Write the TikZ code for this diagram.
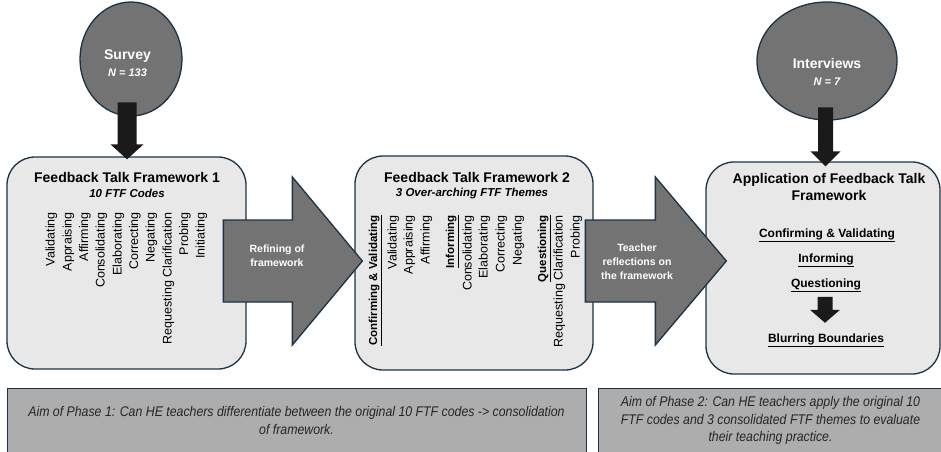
\documentclass[tikz,border=0pt]{standalone}
\usepackage{fontspec}
\setmainfont{Liberation Sans}
\newfontfamily\narrowfont[FakeStretch=0.88]{Liberation Sans}
\usepackage{xcolor}
\usetikzlibrary{arrows.meta, positioning, shapes.geometric, calc}

\definecolor{boxfill}{HTML}{E8E8E8}
\definecolor{edgeblue}{HTML}{1B3345}
\definecolor{midgray}{HTML}{737373}
\definecolor{aimgray}{HTML}{ADADAD}
\definecolor{aimtext}{HTML}{262626}
\definecolor{nearblack}{HTML}{1A1A1A}

\begin{document}
\begin{tikzpicture}[
  x=1pt, y=-1pt,
  framebox/.style={draw=edgeblue, line width=1.3pt, fill=boxfill, rounded corners=28pt, inner sep=0pt},
  source/.style={ellipse, draw=edgeblue, line width=1.3pt, fill=midgray, inner sep=0pt},
  sourcetext/.style={text=white, align=center, inner sep=0pt, font=\bfseries\fontsize{14}{17}\selectfont},
  fwtitle/.style={align=center, inner sep=0pt, font=\bfseries\fontsize{14}{17}\selectfont},
  fwsub/.style={inner sep=0pt, text height=8.3pt, text depth=0pt, font=\bfseries\itshape\fontsize{11.5}{14}\selectfont},
  codelabel/.style={rotate=90, anchor=east, inner sep=0pt, text height=9pt, text depth=0pt, font=\fontsize{12.5}{14}\selectfont},
  themelabel/.style={codelabel, text height=8.3pt, font=\bfseries\fontsize{11.5}{14}\selectfont},
  appitem/.style={inner sep=0pt, text height=8.6pt, text depth=0pt, font=\bfseries\fontsize{12}{14}\selectfont},
  blockarrow/.style={draw=edgeblue, line width=1.3pt, fill=midgray, line join=miter},
  arrowtext/.style={text=white, align=center, inner sep=0pt, font=\bfseries\fontsize{10.5}{14}\selectfont},
  pointer/.style={fill=nearblack},
  aimbox/.style={draw=edgeblue, line width=0.9pt, fill=aimgray, inner sep=0pt, align=center, text=aimtext, font=\narrowfont\itshape\fontsize{14}{17.5}\selectfont}
]
  \clip (0,0) rectangle (941,451);

  % STEP 1 ================================
  \node[source, minimum width=102pt, minimum height=114pt] (survey) at (131,59) {};
  \node[sourcetext] (surveytxt) at (127.5,63.5) {Survey\\{\fontsize{11}{17}\selectfont\itshape N = 133}};

  \node[framebox, minimum width=239pt, minimum height=212pt] (fw1) at (126.5,263) {};
  \node[fwtitle, text height=10.2pt, text depth=0pt] (fw1title) at (127,177) {Feedback Talk Framework 1};
  \node[fwsub] (fw1sub) at (127,193) {10 FTF Codes};

  % the 10 codes, read bottom to top
  \node[codelabel] (a1) at (50,212) {Validating};
  \node[codelabel] (a2) at (67,212) {Appraising};
  \node[codelabel] (a3) at (83.5,212) {Affirming};
  \node[codelabel] (a4) at (100,212) {Consolidating};
  \node[codelabel] (a5) at (117,212) {Elaborating};
  \node[codelabel] (a6) at (133.5,212) {Correcting};
  \node[codelabel] (a7) at (150,212) {Negating};
  \node[codelabel] (a8) at (167,212) {Requesting Clarification};
  \node[codelabel] (a9) at (183.5,212) {Probing};
  \node[codelabel] (a10) at (200,212) {Initiating};

  % STEP 2 ================================
  \node[framebox, minimum width=238pt, minimum height=214pt] (fw2) at (474,263) {};
  \node[fwtitle, text height=10.2pt, text depth=0pt] (fw2title) at (477,177) {Feedback Talk Framework 2};
  \node[fwsub] (fw2sub) at (472,192) {3 Over-arching FTF Themes};

  % themes and their codes
  \node[themelabel] (b1) at (373,215) {\underline{Confirming \& Validating}};
  \node[codelabel] (b2) at (392,215) {Validating};
  \node[codelabel] (b3) at (408,215) {Appraising};
  \node[codelabel] (b4) at (425,215) {Affirming};
  \node[themelabel] (b5) at (450,215) {\underline{Informing}};
  \node[codelabel] (b6) at (467,215) {Consolidating};
  \node[codelabel] (b7) at (483,215) {Elaborating};
  \node[codelabel] (b8) at (500,215) {Correcting};
  \node[codelabel] (b9) at (517,215) {Negating};
  \node[themelabel] (b10) at (542,215) {\underline{Questioning}};
  \node[codelabel] (b11) at (558,215) {Requesting Clarification};
  \node[codelabel] (b12) at (575,215) {Probing};

  % STEP 3 ================================
  \node[source, minimum width=140pt, minimum height=118pt] (interviews) at (827,61) {};
  \node[sourcetext] (interviewstxt) at (827,71.5) {Interviews\\{\fontsize{11}{17}\selectfont\itshape N = 7}};

  \node[framebox, minimum width=234pt, minimum height=212pt] (app) at (823,268) {};
  \node[fwtitle] (apptitle) at (829,186.5) {Application of Feedback Talk\\Framework};
  \node[appitem] (conf) at (827,233) {\underline{Confirming \& Validating}};
  \node[appitem] (inf) at (826,258) {\underline{Informing}};
  \node[appitem] (quest) at (826,283) {\underline{Questioning}};
  \node[appitem] (blur) at (826,338) {\underline{Blurring Boundaries}};

  % Black arrows
  \fill[pointer] ([xshift=0.5pt, yshift=-3pt]fw1.north) -- ++(-16.5,-15) -- ++(7,0) -- ++(0,-42)
    -- ++(19,0) -- ++(0,42) -- ++(7,0) -- cycle;
  \fill[pointer] ([xshift=2.5pt, yshift=-5pt]app.north) -- ++(-15,-15) -- ++(7.5,0) -- ++(0,-44)
    -- ++(15,0) -- ++(0,44) -- ++(7.5,0) -- cycle;
  \fill[pointer] ([xshift=-1pt, yshift=10.7pt]blur.north) -- ++(-15,-13) -- ++(7.5,0) -- ++(0,-13)
    -- ++(15,0) -- ++(0,13) -- ++(7.5,0) -- cycle;

  % Grey arrows between the steps
  \coordinate (tip1) at ([xshift=8pt, yshift=2pt]fw2.west);
  \draw[blockarrow] (tip1) -- ++(-70,-84) -- ++(0,43) -- ++(-69,0) -- ++(0,82) -- ++(69,0) -- ++(0,43) -- cycle;
  \node[arrowtext] (refine) at (277,255.5) {Refining of\\framework};

  \coordinate (tip2) at ([xshift=21pt, yshift=7pt]app.west);
  \draw[blockarrow] (tip2) -- ++(-71,-84) -- ++(0,43) -- ++(-70,0) -- ++(0,82) -- ++(70,0) -- ++(0,43) -- cycle;
  \node[arrowtext] (reflect) at (637,262) {Teacher\\reflections on\\the framework};

  % Aims of the phases
  \node[aimbox, minimum width=579pt, minimum height=65pt] (aim1) at (296.5,420.5)
    {Aim of Phase 1: Can HE teachers differentiate between the original 10 FTF codes -> consolidation\\of framework.};
  \node[aimbox, minimum width=345pt, minimum height=65pt] (aim2) at (770.5,420.5)
    {Aim of Phase 2: Can HE teachers apply the original 10\\FTF codes and 3 consolidated FTF themes to evaluate\\their teaching practice.};
\end{tikzpicture}
\end{document}
